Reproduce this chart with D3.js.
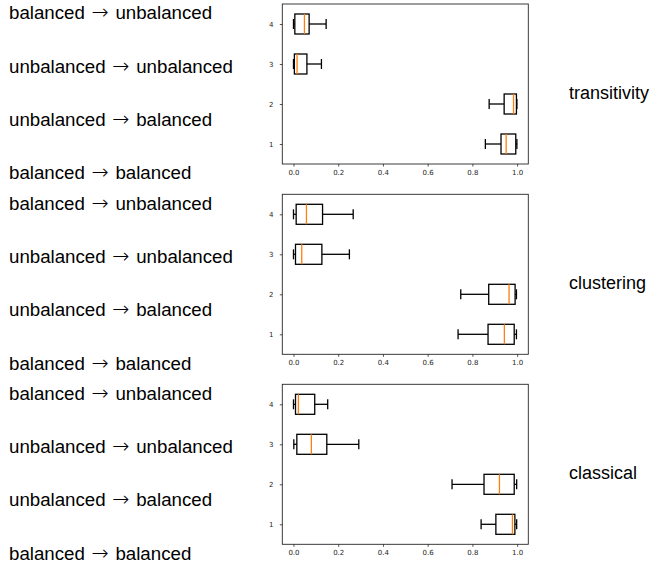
<!DOCTYPE html>
<html>
<head>
<meta charset="utf-8">
<script src="https://cdn.jsdelivr.net/npm/d3@7"></script>
<style>
  html, body { margin: 0; padding: 0; background: #fff; }
  svg { display: block; }
</style>
</head>
<body>
<svg id="chart" width="652" height="570"></svg>
<script>
// ---- data ----
const metrics = ["transitivity", "clustering", "classical"];
const transitionFrom = ["balanced", "unbalanced", "unbalanced", "balanced"];
const transitionTo = ["unbalanced", "unbalanced", "balanced", "balanced"];
const positions = [1, 2, 3, 4];
const xTicks = [0.0, 0.2, 0.4, 0.6, 0.8, 1.0];
const yTicks = [1, 2, 3, 4];
// each box: [whisker low, q1, median, q3, whisker high], positions 1..4
const transitivityBoxes = [
  [0.858, 0.928, 0.951, 0.994, 0.999],
  [0.875, 0.942, 0.984, 0.997, 0.999],
  [0.000, 0.004, 0.016, 0.060, 0.125],
  [0.000, 0.006, 0.049, 0.070, 0.146]
];
const clusteringBoxes = [
  [0.736, 0.870, 0.943, 0.987, 0.997],
  [0.748, 0.873, 0.964, 0.991, 0.997],
  [0.000, 0.009, 0.037, 0.127, 0.250],
  [0.000, 0.012, 0.058, 0.130, 0.267]
];
const classicalBoxes = [
  [0.839, 0.905, 0.979, 0.990, 0.998],
  [0.709, 0.852, 0.921, 0.987, 0.998],
  [0.0015, 0.015, 0.080, 0.149, 0.292],
  [0.000, 0.009, 0.022, 0.095, 0.153]
];
const boxesByMetric = [transitivityBoxes, clusteringBoxes, classicalBoxes];

// ---- layout ----
const svg = d3.select("#chart");
const panelLeft = 282.3, panelRight = 528.3, panelH = 160;
const panelTops = [4, 194.3, 384.3];
const labelOffsets = [15.3, 68.6, 121.9, 175.3];
const textFont = "'Liberation Sans', Arial, Helvetica, sans-serif";
const tickFont = "'DejaVu Sans', sans-serif";
const arrowFont = "'DejaVu Sans ExtraLight', 'DejaVu Sans', sans-serif";

const x = d3.scaleLinear().domain([-0.05, 1.05]).range([panelLeft, panelRight]);

metrics.forEach((m, i) => {
  const top = panelTops[i];
  const y = d3.scaleLinear().domain([0.5, 4.5]).range([top + panelH, top]);
  const g = svg.append("g");
  const boxes = boxesByMetric[i];

  // left labels
  transitionFrom.forEach((from, k) => {
    const t = svg.append("text")
      .attr("x", 9).attr("y", top + labelOffsets[k])
      .attr("font-family", textFont).attr("font-size", 18.7)
      .attr("fill", "#000");
    t.append("tspan").text(from + " ");
    t.append("tspan").attr("dx", 1.5).attr("font-family", arrowFont).attr("font-weight", 200)
      .attr("font-size", 20.5).text("\u2192");
    t.append("tspan").attr("dx", 1.5).text(" " + transitionTo[k]);
  });
  // right metric label
  svg.append("text")
    .attr("x", 569).attr("y", top + 94.5)
    .attr("font-family", textFont).attr("font-size", 18)
    .attr("fill", "#000")
    .text(m);

  // axes
  const xa = g.append("g").attr("transform", `translate(0,${top + panelH})`)
    .call(d3.axisBottom(x).tickValues(xTicks).tickFormat(d3.format(".1f")).tickSize(2.5).tickSizeOuter(0).tickPadding(3.5));
  const ya = g.append("g").attr("transform", `translate(${panelLeft},0)`)
    .call(d3.axisLeft(y).tickValues(yTicks).tickFormat(d3.format("d")).tickSize(2.5).tickSizeOuter(0).tickPadding(6.3));
  [xa, ya].forEach(a => {
    a.select(".domain").remove();
    a.selectAll("text").attr("font-family", tickFont).attr("font-size", 7).attr("fill", "#262626");
    a.selectAll("line").attr("stroke", "#262626").attr("stroke-width", 0.8);
  });

  // boxes
  const halfBox = (y(0) - y(0.25));
  const halfCap = (y(0) - y(0.125));
  boxes.forEach((b, k) => {
    const pos = positions[k];
    const cy = y(pos);
    const [lo, q1, med, q3, hi] = b;
    const bg = g.append("g").attr("stroke", "#000").attr("stroke-width", 1.3).attr("fill", "none");
    // whiskers
    bg.append("line").attr("x1", x(lo)).attr("x2", x(q1)).attr("y1", cy).attr("y2", cy);
    bg.append("line").attr("x1", x(q3)).attr("x2", x(hi)).attr("y1", cy).attr("y2", cy);
    // caps
    bg.append("line").attr("x1", x(lo)).attr("x2", x(lo)).attr("y1", cy - halfCap).attr("y2", cy + halfCap);
    bg.append("line").attr("x1", x(hi)).attr("x2", x(hi)).attr("y1", cy - halfCap).attr("y2", cy + halfCap);
    // box
    bg.append("rect").attr("x", x(q1)).attr("y", cy - halfBox)
      .attr("width", x(q3) - x(q1)).attr("height", 2 * halfBox);
    // median
    g.append("line").attr("x1", x(med)).attr("x2", x(med))
      .attr("y1", cy - halfBox).attr("y2", cy + halfBox)
      .attr("stroke", "#ff7f0e").attr("stroke-width", 1.3);
  });

  // frame
  g.append("rect").attr("x", panelLeft).attr("y", top)
    .attr("width", panelRight - panelLeft).attr("height", panelH)
    .attr("fill", "none").attr("stroke", "#262626").attr("stroke-width", 0.9);
});
</script>
</body>
</html>
